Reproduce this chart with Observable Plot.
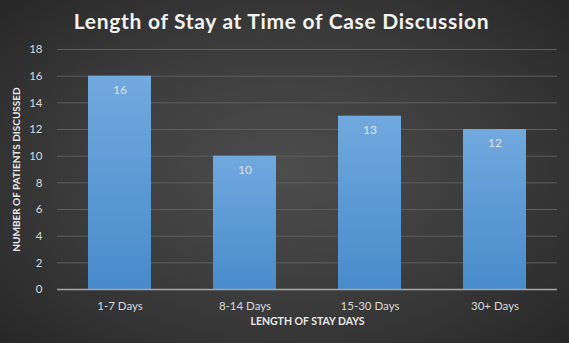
<!DOCTYPE html>
<html><head><meta charset="utf-8">
<script src="https://cdn.jsdelivr.net/npm/d3@7"></script>
<script src="https://cdn.jsdelivr.net/npm/@observablehq/plot@0.6"></script>
<style>
html,body{margin:0;padding:0;background:#2b2b2b;}
#chart{position:relative;width:569px;height:343px;overflow:hidden;
 background:radial-gradient(ellipse 70% 75% at 50% 50%, #4d4d4d 0%, #3a3a3a 55%, #262626 100%);
 font-family:Lato, "Open Sans", sans-serif;}
#title{height:41px;line-height:42px;text-align:center;color:#f2f2f2;font-weight:bold;font-size:21px;padding-right:6px;letter-spacing:0.7px;}
</style></head>
<body><div id="chart"><div id="title">Length of Stay at Time of Case Discussion</div></div>
<script>
const categories = ["1-7 Days","8-14 Days","15-30 Days","30+ Days"];
const values = [16,10,13,12];
const yTicks = [0,2,4,6,8,10,12,14,16,18];
const yLabel = "NUMBER OF PATIENTS DISCUSSED";
const xLabel = "LENGTH OF STAY DAYS";

const data = categories.map((c,i)=>({cat:c, value:values[i]}));

const plot = Plot.plot({
  width:569, height:302,
  marginTop:8, marginBottom:54, marginLeft:57, marginRight:12,
  style:{background:"transparent", color:"#d9d9d9", fontFamily:"Lato, 'Open Sans', sans-serif", fontSize:"11.5px"},
  x:{domain:categories, paddingInner:0.5, paddingOuter:0.25, label:null, tickSize:0, tickPadding:12},
  y:{domain:[0,18], ticks:yTicks, label:null, tickSize:0, tickPadding:15},
  marks:[
    Plot.gridY(yTicks.filter(d=>d>0), {stroke:"#5e5e5e", strokeOpacity:1, strokeWidth:1}),
    Plot.barY(data, {x:"cat", y:"value", fill:"url(#barGrad)"}),
    Plot.ruleY([0], {stroke:"#a6a6a6", strokeWidth:1.5}),
    Plot.text(data, {x:"cat", y:"value", text:d=>String(d.value), dy:14, fill:"#e0e0e0", fontSize:12}),
    Plot.text([yLabel], {frameAnchor:"left", textAnchor:"middle", rotate:-90, dx:-41, text:d=>d, fill:"#e8e8e8", fontWeight:"bold", fontSize:10}),
    Plot.text([xLabel], {frameAnchor:"bottom", dy:35, text:d=>d, fill:"#e8e8e8", fontWeight:"bold", fontSize:10.5})
  ]
});
const ns="http://www.w3.org/2000/svg";
const defs=document.createElementNS(ns,"defs");
defs.innerHTML='<linearGradient id="barGrad" x1="0" y1="0" x2="0" y2="1"><stop offset="0" stop-color="#71a9de"/><stop offset="1" stop-color="#488bcb"/></linearGradient>';
plot.insertBefore(defs, plot.firstChild);
plot.style.display="block";
document.getElementById("chart").appendChild(plot);
</script></body></html>
